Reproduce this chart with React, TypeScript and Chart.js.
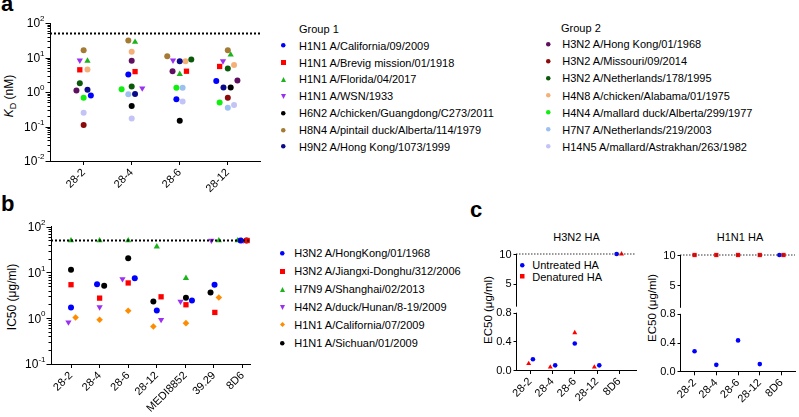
import React, { useEffect, useRef } from 'react';
import { Chart, registerables } from 'chart.js';
Chart.register(...registerables);

const FONT = '"Liberation Sans", Arial, Helvetica, sans-serif';
Chart.defaults.font.family = FONT;
Chart.defaults.color = '#000';

// ---------------- Panel a data ----------------
const categoriesA = ['28-2', '28-4', '28-6', '28-12'];
const namesGroup1 = [
  'H1N1 A/California/09/2009',
  'H1N1 A/Brevig mission/01/1918',
  'H1N1 A/Florida/04/2017',
  'H1N1 A/WSN/1933',
  'H6N2 A/chicken/Guangdong/C273/2011',
  'H8N4 A/pintail duck/Alberta/114/1979',
  'H9N2 A/Hong Kong/1073/1999',
];
const namesGroup2 = [
  'H3N2 A/Hong Kong/01/1968',
  'H3N2 A/Missouri/09/2014',
  'H3N2 A/Netherlands/178/1995',
  'H4N8 A/chicken/Alabama/01/1975',
  'H4N4 A/mallard duck/Alberta/299/1977',
  'H7N7 A/Netherlands/219/2003',
  'H14N5 A/mallard/Astrakhan/263/1982',
];
// KD (nM) per strain, per antibody (28-2, 28-4, 28-6, 28-12)
const kdA: (number | null)[][] = [
  [0.79, 3.2, 0.62, 2.1],
  [4.4, 3.9, 4.0, 5.5],
  [8.0, 28, 3.3, 12],
  [8.3, 1.29, 8.3, 7.9],
  [null, 0.39, 0.147, 1.35],
  [16.2, 31, 10.9, 16.2],
  [1.16, 0.88, 7.8, 1.35],
  [1.1, 8.1, 4.0, 2.15],
  [0.11, null, null, 0.68],
  [1.8, 1.44, 8.7, 4.8],
  [4.5, 14.8, 7.8, 6.1],
  [0.68, 1.21, 1.32, 0.5],
  [null, 0.86, 1.32, 0.35],
  [0.25, 0.17, 0.53, 0.42],
];
// horizontal scatter offsets (in category units)
const jitterA: number[][] = [
  [0.15, -0.07, -0.07, -0.24],
  [-0.08, 0.07, 0.14, -0.17],
  [0.08, 0.07, 0, 0.06],
  [-0.08, 0.22, -0.14, -0.1],
  [0, 0, 0, 0.06],
  [0, -0.07, -0.26, 0],
  [0.08, 0.07, 0, -0.09],
  [-0.15, 0, -0.15, 0.2],
  [0, 0, 0, 0],
  [-0.08, 0, 0.24, 0],
  [0.08, 0, 0.12, 0.13],
  [0, -0.21, -0.07, -0.17],
  [0, -0.07, 0.06, 0],
  [0, 0, 0.06, 0.13],
];
const thresholdAB = 50;

// ---------------- Panel b data ----------------
const categoriesB = ['28-2', '28-4', '28-6', '28-12', 'MEDI8852', '39.29', '8D6'];
const namesB = [
  'H3N2 A/HongKong/01/1968',
  'H3N2 A/Jiangxi-Donghu/312/2006',
  'H7N9 A/Shanghai/02/2013',
  'H4N2 A/duck/Hunan/8-19/2009',
  'H1N1 A/California/07/2009',
  'H1N1 A/Sichuan/01/2009',
];
const ic50B: number[][] = [
  [1.72, 5.55, 7.5, 1.48, 2.44, 5.36, 50],
  [5.4, 2.75, 5.9, 2.94, 1.97, 1.34, 50],
  [50, 50, 50, 36.7, 7.5, 50, 50],
  [0.82, 1.75, 7.2, 0.93, 2.32, 50, 50],
  [1.04, 0.93, 1.46, 0.66, 0.78, 2.84, 50],
  [11.4, 5.1, 20.4, 2.32, 2.79, 3.65, 50],
];
const jitterB: number[][] = [
  [0, -0.09, 0.23, 0, 0.23, 0.02, -0.07],
  [0, 0, 0, 0.15, 0.02, 0.03, 0.16],
  [0, 0, 0, 0, 0.02, 0.17, -0.17],
  [-0.09, 0, -0.2, 0.15, -0.17, -0.09, 0.02],
  [0.16, 0, 0, -0.12, 0.02, 0.17, -0.03],
  [0, 0.16, 0, -0.12, 0.02, -0.12, 0.14],
];

// ---------------- Panel c data ----------------
const categoriesC = ['28-2', '28-4', '28-6', '28-12', '8D6'];
const h3n2Untreated = [0.15, 0.065, 0.37, 0.065, 10];
const h3n2Denatured = [0.09, 0.04, 0.52, 0.04, 10];
const h1n1Untreated = [0.28, 0.09, 0.43, 0.1, 10];
const h1n1Denatured = [10, 10, 10, 10, 10];
const jitterH3Untreated = [0.12, 0.12, 0, 0.1, -0.12];
const jitterH3Denatured = [-0.07, -0.1, 0, -0.12, 0.1];
const jitterH1Untreated = [0, 0, 0, 0, -0.1];
const jitterH1Denatured = [0, 0, 0, 0, 0.09];
const thresholdC = 10;
const breakLowC = 0.8;   // top of lower axis segment
const breakHighC = 1.2;  // bottom of upper axis segment
const maxC = 10;
const ticksLowerC = [0, 0.4, 0.8];
const ticksUpperC = [5, 10];

// broken axis: lower segment takes 49.4% of the height, a 5.2% gap, upper 45.4%
const LOWER_FRAC = 0.494;
const GAP_FRAC = 0.052;
function brokenY(v: number) {
  if (v <= breakLowC) return (v / breakLowC) * LOWER_FRAC;
  return LOWER_FRAC + GAP_FRAC + ((v - breakHighC) / (maxC - breakHighC)) * (1 - LOWER_FRAC - GAP_FRAC);
}

// ---------------- styles ----------------
type Shape = 'circle' | 'rect' | 'triangle' | 'down' | 'diamond';
const colorsA = [
  '#0000ff', '#ff0000', '#1db31d', '#9b30f0', '#000000', '#a57a35', '#0a0a8a',
  '#5e1060', '#8b0a0a', '#0b5a0b', '#f5b07a', '#11ee11', '#9dc0f2', '#c3c3f7',
];
const shapesA: Shape[] = [
  'circle', 'rect', 'triangle', 'down', 'circle', 'circle', 'circle',
  'circle', 'circle', 'circle', 'circle', 'circle', 'circle', 'circle',
];
const colorsB = ['#0000ff', '#ff0000', '#1db31d', '#9b30f0', '#ff8c00', '#000000'];
const shapesB: Shape[] = ['circle', 'rect', 'triangle', 'down', 'diamond', 'circle'];

function pointProps(shape: Shape, base: number) {
  switch (shape) {
    case 'rect': return { pointStyle: 'rect', pointRadius: base * 1.25, pointRotation: 0 };
    case 'triangle': return { pointStyle: 'triangle', pointRadius: base * 1.2, pointRotation: 0 };
    case 'down': return { pointStyle: 'triangle', pointRadius: base * 1.2, pointRotation: 180 };
    case 'diamond': return { pointStyle: 'rectRot', pointRadius: base * 1.1, pointRotation: 0 };
    default: return { pointStyle: 'circle', pointRadius: base, pointRotation: 0 };
  }
}

function scatterSet(values: (number | null)[], offsets: number[], color: string, shape: Shape, base: number, mapY: (v: number) => number = (v) => v) {
  const data: { x: number; y: number }[] = [];
  values.forEach((v, i) => {
    if (v !== null) data.push({ x: i + offsets[i], y: mapY(v) });
  });
  return {
    data,
    backgroundColor: color,
    borderColor: color,
    borderWidth: 0,
    clip: false as any,
    ...pointProps(shape, base),
  };
}

function thresholdSet(value: number, min: number, max: number, width: number, color: string, dash: number[]) {
  return {
    data: [{ x: min, y: value }, { x: max, y: value }],
    showLine: true,
    borderColor: color,
    borderWidth: width,
    borderDash: dash,
    pointRadius: 0,
    clip: false as any,
  };
}

function xAxis(cats: string[], min: number, max: number, height: number) {
  return {
    type: 'linear',
    min,
    max,
    afterBuildTicks: (s: any) => { s.ticks = cats.map((_, i) => ({ value: i })); },
    afterFit: (s: any) => { s.height = height; },
    ticks: {
      autoSkip: false,
      minRotation: 45,
      maxRotation: 45,
      padding: 1,
      color: '#000',
      font: { size: 11, family: FONT },
      callback: (v: any) => cats[Math.round(Number(v))] ?? '',
    },
    grid: { display: true, drawOnChartArea: false, drawTicks: true, tickLength: 4, color: '#000', lineWidth: 1 },
    border: { display: true, color: '#000', width: 1 },
  };
}

function plainYAxis(type: string, min: number, max: number, width: number, border = true) {
  return {
    type,
    min,
    max,
    afterFit: (s: any) => { s.width = width; },
    ticks: { display: false },
    grid: { display: false },
    border: { display: border, color: '#000', width: 1 },
  };
}

// draws log ticks (major + minor) and 10^n labels with real superscripts
const logAxisPlugin = {
  id: 'logAxis',
  afterDraw(chart: any) {
    const s = chart.scales.y;
    const ctx = chart.ctx as CanvasRenderingContext2D;
    const x0 = Math.round(s.right) + 0.5;
    const lo = Math.round(Math.log10(s.min));
    const hi = Math.round(Math.log10(s.max));
    ctx.save();
    ctx.strokeStyle = '#000';
    ctx.lineWidth = 1;
    ctx.beginPath();
    for (let e = lo; e <= hi; e++) {
      const y = Math.round(s.getPixelForValue(Math.pow(10, e))) + 0.5;
      ctx.moveTo(x0 - 5, y);
      ctx.lineTo(x0, y);
      if (e < hi) {
        for (let m = 2; m < 10; m++) {
          const ym = Math.round(s.getPixelForValue(m * Math.pow(10, e))) + 0.5;
          ctx.moveTo(x0 - 3, ym);
          ctx.lineTo(x0, ym);
        }
      }
    }
    ctx.stroke();
    ctx.fillStyle = '#000';
    ctx.textBaseline = 'middle';
    ctx.textAlign = 'left';
    for (let e = lo; e <= hi; e++) {
      const y = s.getPixelForValue(Math.pow(10, e));
      const ex = String(e);
      ctx.font = `8px ${FONT}`;
      const we = ctx.measureText(ex).width;
      ctx.font = `12px ${FONT}`;
      const wb = ctx.measureText('10').width;
      const xr = x0 - 6;
      ctx.fillText('10', xr - we - wb, y + 1);
      ctx.font = `8px ${FONT}`;
      ctx.fillText(ex, xr - we, y - 4);
    }
    ctx.restore();
  },
};

// draws the two segments of the broken y axis of panel c, with ticks and labels
const brokenAxisPlugin = {
  id: 'brokenAxis',
  afterDraw(chart: any) {
    const s = chart.scales.y;
    const ctx = chart.ctx as CanvasRenderingContext2D;
    const x0 = Math.round(s.right) + 0.5;
    const py = (v: number) => s.getPixelForValue(brokenY(v));
    ctx.save();
    ctx.strokeStyle = '#000';
    ctx.lineWidth = 1;
    ctx.beginPath();
    ctx.moveTo(x0, py(0) + 0.5);
    ctx.lineTo(x0, py(breakLowC));
    ctx.moveTo(x0, py(breakHighC));
    ctx.lineTo(x0, py(maxC));
    [...ticksLowerC, ...ticksUpperC].forEach((v) => {
      const y = Math.round(py(v)) + 0.5;
      ctx.moveTo(x0 - 3, y);
      ctx.lineTo(x0, y);
    });
    ctx.stroke();
    ctx.fillStyle = '#000';
    ctx.font = `11px ${FONT}`;
    ctx.textAlign = 'right';
    ctx.textBaseline = 'middle';
    ticksLowerC.forEach((v) => ctx.fillText(v.toFixed(1), x0 - 5, py(v) + 0.5));
    ticksUpperC.forEach((v) => ctx.fillText(String(v), x0 - 5, py(v) + 0.5));
    ctx.restore();
  },
};

function ChartBox({ left, top, width, height, build }: { left: number; top: number; width: number; height: number; build: () => any }) {
  const ref = useRef<HTMLCanvasElement>(null);
  useEffect(() => {
    const chart = new Chart(ref.current as HTMLCanvasElement, build());
    return () => chart.destroy();
  }, []);
  return (
    <div style={{ position: 'absolute', left, top, width, height }}>
      <canvas ref={ref} width={width} height={height} style={{ width, height, display: 'block' }} />
    </div>
  );
}

function baseOptions() {
  return {
    responsive: false,
    animation: false,
    devicePixelRatio: 1,
    plugins: { legend: { display: false }, tooltip: { enabled: false }, title: { display: false } },
    events: [],
  };
}

function buildA() {
  const xmin = -0.7, xmax = 3.67;
  return {
    type: 'scatter',
    data: {
      datasets: [
        thresholdSet(thresholdAB, xmin, xmax, 2, '#000', [2, 2]),
        ...kdA.map((vals, i) => scatterSet(vals, jitterA[i], colorsA[i], shapesA[i], 3)),
      ],
    },
    options: {
      ...baseOptions(),
      layout: { padding: { left: 0, right: 10, top: 23, bottom: 0 } },
      scales: { x: xAxis(categoriesA, xmin, xmax, 39), y: plainYAxis('logarithmic', 0.01, 100, 50) },
    },
    plugins: [logAxisPlugin],
  };
}

function buildB() {
  const xmin = -0.7, xmax = 6.26;
  return {
    type: 'scatter',
    data: {
      datasets: [
        thresholdSet(thresholdAB, xmin, xmax, 2, '#000', [2, 2]),
        ...ic50B.map((vals, i) => scatterSet(vals, jitterB[i], colorsB[i], shapesB[i], 3)),
      ],
    },
    options: {
      ...baseOptions(),
      layout: { padding: { left: 0, right: 20, top: 26.7, bottom: 0 } },
      scales: { x: xAxis(categoriesB, xmin, xmax, 53), y: plainYAxis('logarithmic', 0.1, 100, 51) },
    },
    plugins: [logAxisPlugin],
  };
}

function buildC(which: 'h3' | 'h1') {
  const isH3 = which === 'h3';
  const xmin = isH3 ? -0.64 : -0.67;
  const xmax = isH3 ? 4.75 : 4.62;
  const untreated = isH3 ? h3n2Untreated : h1n1Untreated;
  const denatured = isH3 ? h3n2Denatured : h1n1Denatured;
  const jU = isH3 ? jitterH3Untreated : jitterH1Untreated;
  const jD = isH3 ? jitterH3Denatured : jitterH1Denatured;
  return {
    type: 'scatter',
    data: {
      datasets: [
        thresholdSet(brokenY(thresholdC), xmin, xmax, 1, '#333', [1.5, 1.5]),
        scatterSet(untreated, jU, '#0000ff', 'circle', 2.3, brokenY),
        scatterSet(denatured, jD, '#ff0000', isH3 ? 'triangle' : 'rect', 2.4, brokenY),
      ],
    },
    options: {
      ...baseOptions(),
      layout: { padding: { left: 0, right: isH3 ? 4 : 1, top: isH3 ? 29 : 30, bottom: 0 } },
      scales: {
        x: xAxis(categoriesC, xmin, xmax, isH3 ? 47 : 45.7),
        y: plainYAxis('linear', 0, 1, isH3 ? 36 : 40, false),
      },
    },
    plugins: [brokenAxisPlugin],
  };
}

function Marker({ shape, color, size, x, y }: { shape: Shape; color: string; size: number; x: number; y: number }) {
  const s = size;
  let el: any;
  if (shape === 'circle') el = <circle cx={s / 2} cy={s / 2} r={s / 2} fill={color} />;
  else if (shape === 'rect') el = <rect x={0} y={0} width={s} height={s} fill={color} />;
  else if (shape === 'triangle') el = <polygon points={`${s / 2},0 ${s},${s} 0,${s}`} fill={color} />;
  else if (shape === 'down') el = <polygon points={`0,0 ${s},0 ${s / 2},${s}`} fill={color} />;
  else el = <polygon points={`${s / 2},0 ${s},${s / 2} ${s / 2},${s} 0,${s / 2}`} fill={color} />;
  return (
    <svg style={{ position: 'absolute', left: x - s / 2, top: y - s / 2, overflow: 'visible' }} width={s} height={s}>
      {el}
    </svg>
  );
}

function Text({ x, y, children, size = 11, anchor = 'left' }: any) {
  const style: any = {
    position: 'absolute',
    top: y - 7,
    left: x,
    height: 14,
    lineHeight: '14px',
    fontSize: size,
    whiteSpace: 'nowrap',
    color: '#000',
  };
  if (anchor === 'center') style.transform = 'translateX(-50%)';
  return <div style={style}>{children}</div>;
}

function VLabel({ x, y, children, size = 12 }: any) {
  return (
    <div
      style={{
        position: 'absolute',
        left: x,
        top: y,
        transform: 'translate(-50%, -50%) rotate(-90deg)',
        whiteSpace: 'nowrap',
        fontSize: size,
        lineHeight: '14px',
        color: '#000',
      }}
    >
      {children}
    </div>
  );
}

function PanelLetter({ x, y, children }: any) {
  return (
    <div style={{ position: 'absolute', left: x, top: y, fontSize: 22, fontWeight: 'bold', lineHeight: '22px', color: '#000' }}>
      {children}
    </div>
  );
}

export default function App() {
  return (
    <div style={{ position: 'absolute', left: 0, top: 0, width: 799, height: 417, background: '#fff', fontFamily: FONT, overflow: 'hidden' }}>
      <PanelLetter x={1} y={-7}>a</PanelLetter>
      <PanelLetter x={1} y={193}>b</PanelLetter>
      <PanelLetter x={470} y={199}>c</PanelLetter>

      <VLabel x={11} y={96}>
        <i>K</i><sub style={{ fontSize: 9 }}>D</sub> (nM)
      </VLabel>
      <VLabel x={11.5} y={297}>IC50 (μg/ml)</VLabel>
      <VLabel x={488} y={310} size={11.5}>EC50 (μg/ml)</VLabel>
      <VLabel x={651.5} y={308} size={11.5}>EC50 (μg/ml)</VLabel>

      <Text x={299} y={28.5}>Group 1</Text>
      {namesGroup1.map((n, i) => (
        <React.Fragment key={'g1' + i}>
          <Marker shape={shapesA[i]} color={colorsA[i]} size={shapesA[i] === 'circle' ? 4.5 : 5} x={283.3} y={45.7 + 16.83 * i} />
          <Text x={299} y={45.7 + 16.83 * i}>{n}</Text>
        </React.Fragment>
      ))}
      <Text x={561} y={27.5}>Group 2</Text>
      {namesGroup2.map((n, i) => (
        <React.Fragment key={'g2' + i}>
          <Marker shape={shapesA[i + 7]} color={colorsA[i + 7]} size={4.5} x={548.3} y={44.3 + 17.07 * i} />
          <Text x={562.3} y={44.3 + 17.07 * i}>{n}</Text>
        </React.Fragment>
      ))}

      {namesB.map((n, i) => (
        <React.Fragment key={'b' + i}>
          <Marker shape={shapesB[i]} color={colorsB[i]} size={shapesB[i] === 'circle' ? 4.5 : 5} x={282.3} y={253.3 + 17.9 * i} />
          <Text x={294.3} y={253.3 + 17.9 * i}>{n}</Text>
        </React.Fragment>
      ))}

      <Text x={576.5} y={237} anchor="center">H3N2 HA</Text>
      <Text x={740} y={237} anchor="center">H1N1 HA</Text>
      <Marker shape="circle" color="#0000ff" size={4.5} x={522.3} y={265} />
      <Text x={532.3} y={265}>Untreated HA</Text>
      <Marker shape="rect" color="#ff0000" size={4.5} x={522.3} y={276.7} />
      <Text x={532.3} y={276.7}>Denatured HA</Text>

      <ChartBox left={0} top={0} width={270} height={200} build={buildA} />
      <ChartBox left={0} top={200} width={270} height={217} build={buildB} />
      <ChartBox left={480} top={225} width={160} height={192} build={() => buildC('h3')} />
      <ChartBox left={640} top={225} width={159} height={192} build={() => buildC('h1')} />
    </div>
  );
}
